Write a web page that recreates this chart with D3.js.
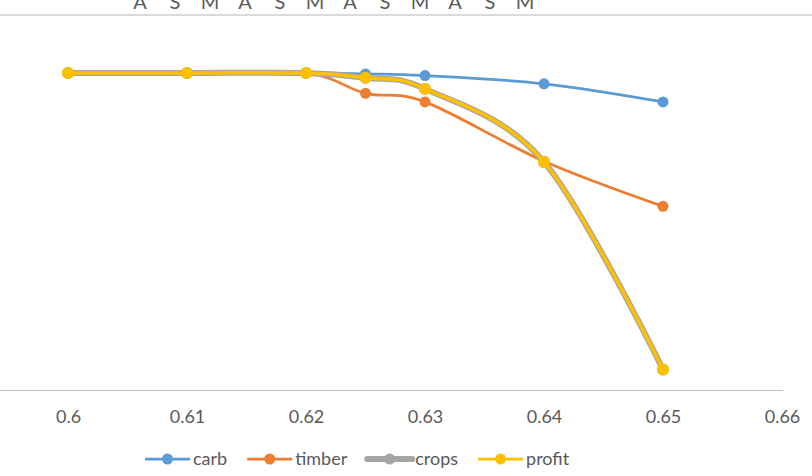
<!DOCTYPE html>
<html>
<head>
<meta charset="utf-8">
<script src="https://cdn.jsdelivr.net/npm/d3@7"></script>
<style>
  html, body { margin: 0; padding: 0; background: #fff; }
  svg { display: block; }
  text { font-family: Lato, "Open Sans", sans-serif; fill: #595959; }
</style>
</head>
<body>
<svg id="chart" width="812" height="476"></svg>
<script>
// ---- data ----
const xValues = [0.6, 0.61, 0.62, 0.625, 0.63, 0.64, 0.65];
const carb   = [1.0, 1.0, 1.0, 0.997, 0.992, 0.966, 0.909];
const timber = [1.0, 1.0, 1.0, 0.936, 0.909, 0.722, 0.580];
const crops  = [1.0, 1.0, 1.0, 0.985, 0.950, 0.720, 0.066];
const profit = [1.0, 1.0, 1.0, 0.985, 0.950, 0.720, 0.066];
const seriesNames = ["carb", "timber", "crops", "profit"];
const seriesColors = ["#5B9BD5", "#ED7D31", "#A5A5A5", "#FFC000"];
const xTicks = [0.6, 0.61, 0.62, 0.63, 0.64, 0.65, 0.66];
const topLabels = ["A", "S", "M", "A", "S", "M", "A", "S", "M", "A", "S", "M"];

const seriesData = [carb, timber, crops, profit];

const svg = d3.select("#chart");

// remnant of the chart above
svg.append("line")
  .attr("x1", 0).attr("x2", 812).attr("y1", 15).attr("y2", 15)
  .attr("stroke", "#D9D9D9").attr("stroke-width", 2);
const topScale = d3.scalePoint().domain(d3.range(topLabels.length)).range([140, 525]);
svg.append("g").selectAll("text").data(topLabels).join("text")
  .attr("x", (d, i) => topScale(i))
  .attr("y", 9)
  .attr("text-anchor", "middle")
  .style("font-size", "20px")
  .text(d => d);

// scales
const x = d3.scaleLinear().domain([0.6, 0.66]).range([68, 782]);
const y = d3.scaleLinear().domain([0, 1]).range([390.5, 73]);

// axis line (extends to left edge)
svg.append("line")
  .attr("x1", 0).attr("x2", x(0.66) + 1)
  .attr("y1", y(0)).attr("y2", y(0))
  .attr("stroke", "#BFBFBF").attr("stroke-width", 1.2);

const xAxis = d3.axisBottom(x).tickValues(xTicks).tickSize(0).tickPadding(0)
  .tickFormat(d3.format(""));
const gx = svg.append("g").attr("transform", `translate(0,${y(0)})`).call(xAxis);
gx.select(".domain").remove();
gx.selectAll("text")
  .attr("y", 26).attr("dy", "0.35em")
  .style("font-size", "18px")
  .style("fill", "#595959")
  .style("font-family", "Lato, 'Open Sans', sans-serif");

const line = d3.line()
  .x((d, i) => x(xValues[i]))
  .y(d => y(d))
  .curve(d3.curveCardinal.tension(0));

const widths = [2.75, 2.75, 6, 3.5];
const radii = [5.5, 5.5, 6, 6];

seriesData.forEach((vals, k) => {
  svg.append("path")
    .datum(vals)
    .attr("fill", "none")
    .attr("stroke", seriesColors[k])
    .attr("stroke-width", widths[k])
    .attr("stroke-linejoin", "round")
    .attr("stroke-linecap", "round")
    .attr("d", line);
  svg.append("g").selectAll("circle").data(vals).join("circle")
    .attr("cx", (d, i) => x(xValues[i]))
    .attr("cy", d => y(d))
    .attr("r", radii[k])
    .attr("fill", seriesColors[k]);
});

// legend
const legend = svg.append("g");
let lx = 145;
const ly = 459;
const legendWidths = [2.75, 2.75, 6, 2.75];
seriesNames.forEach((name, k) => {
  legend.append("line")
    .attr("x1", lx).attr("x2", lx + 45).attr("y1", ly).attr("y2", ly)
    .attr("stroke", seriesColors[k]).attr("stroke-width", legendWidths[k])
    .attr("stroke-linecap", k === 2 ? "round" : "butt");
  legend.append("circle")
    .attr("cx", lx + 22.5).attr("cy", ly).attr("r", 5.5)
    .attr("fill", seriesColors[k]);
  const t = legend.append("text")
    .attr("x", lx + 48).attr("y", ly).attr("dy", "0.35em")
    .style("font-size", "18px")
    .text(name);
  lx = lx + 48 + t.node().getComputedTextLength() + 20;
});
</script>
</body>
</html>
